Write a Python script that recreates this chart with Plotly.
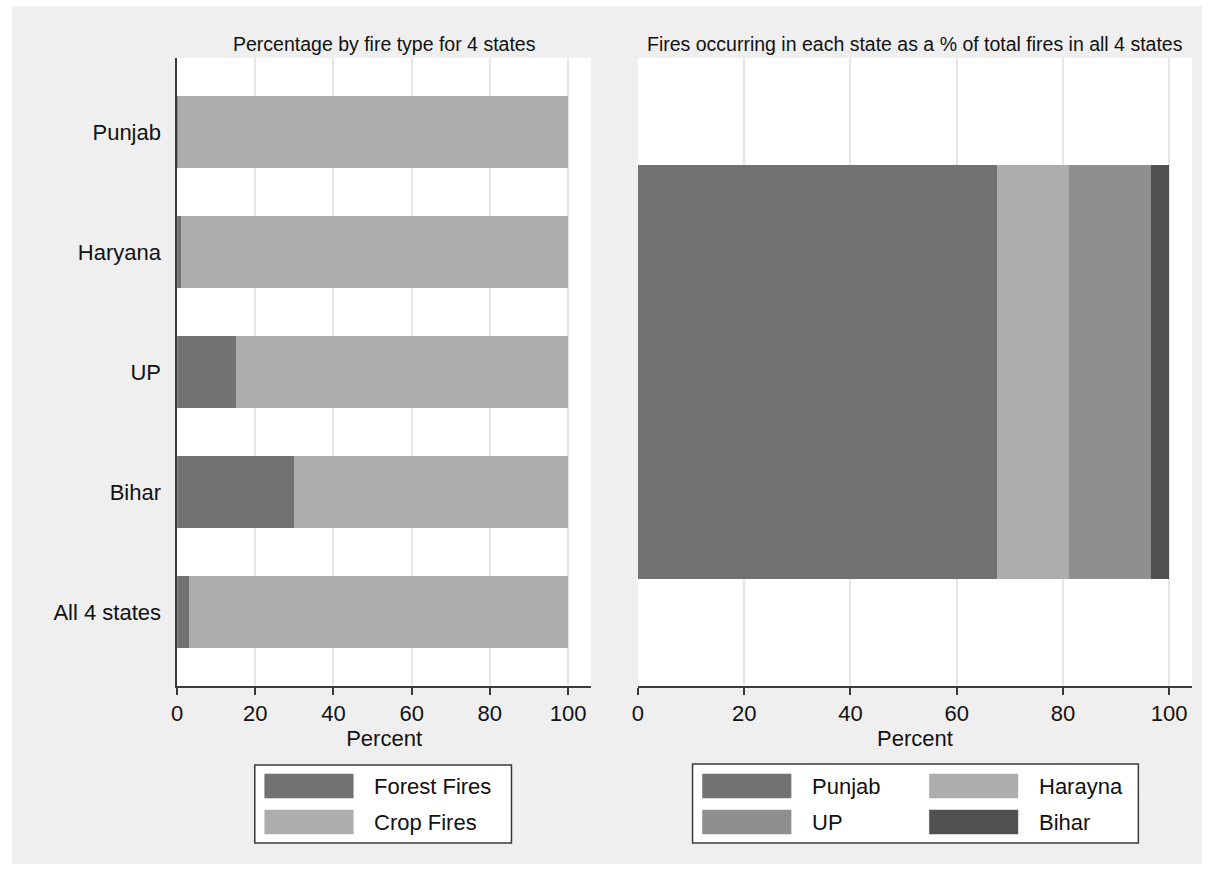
import plotly.graph_objects as go

# ---- data ----
states = ["Punjab", "Haryana", "UP", "Bihar", "All 4 states"]
forest_pct = [0.3, 1.0, 15.0, 29.9, 3.1]
crop_pct = [99.7, 99.0, 85.0, 70.1, 96.9]
fire_types = ["Forest Fires", "Crop Fires"]

share_states = ["Punjab", "Harayna", "UP", "Bihar"]
share_pct = [67.6, 13.5, 15.5, 3.4]

x_ticks = [0, 20, 40, 60, 80, 100]

# ---- styles ----
W, H = 1208, 870
FONT = "Arial, 'Liberation Sans', sans-serif"
type_colors = ["#727272", "#adadad"]
state_colors = ["#727272", "#adadad", "#8f8f8f", "#505050"]
GRID = "#e6e6e6"
AX = "#3a3a3a"


def px(x):
    return x / W


def py(y):
    return 1 - y / H


fig = go.Figure()

for name, vals, col in zip(fire_types, [forest_pct, crop_pct], type_colors):
    fig.add_trace(go.Bar(
        y=states, x=vals, orientation="h", name=name,
        marker=dict(color=col, line=dict(width=0)),
        width=0.6, xaxis="x", yaxis="y", showlegend=False,
    ))

for name, val, col in zip(share_states, share_pct, state_colors):
    fig.add_trace(go.Bar(
        y=[0], x=[val], orientation="h", name=name,
        marker=dict(color=col, line=dict(width=0)),
        width=0.66, xaxis="x2", yaxis="y2", showlegend=False,
    ))

xaxis_common = dict(
    tickvals=x_ticks, ticks="outside", ticklen=7, tickwidth=1.5, tickcolor=AX,
    showline=True, linecolor=AX, linewidth=1.5,
    showgrid=True, gridcolor=GRID, gridwidth=1.5, zeroline=False,
    tickfont=dict(size=22, color="#111", family=FONT),
    title=dict(text="Percent", font=dict(size=22, color="#111", family=FONT), standoff=0),
)

fig.update_layout(
    width=W, height=H, autosize=False,
    margin=dict(l=0, r=0, t=0, b=0),
    paper_bgcolor="#efefef", plot_bgcolor="white",
    barmode="stack", showlegend=False,
    font=dict(family=FONT, color="#111"),
    xaxis=dict(domain=[px(172), px(588)], range=[0, 105.9], anchor="y", **xaxis_common),
    yaxis=dict(domain=[py(686), py(58)], range=[4.617, -0.617], anchor="x",
               type="category", categoryorder="array", categoryarray=states,
               showline=True, linecolor=AX, linewidth=1.5, ticks="",
               showgrid=False, zeroline=False, ticklabelstandoff=10,
               tickfont=dict(size=22, color="#111", family=FONT)),
    xaxis2=dict(domain=[px(635), px(1192)], range=[0, 104.3], anchor="y2", **xaxis_common),
    yaxis2=dict(domain=[py(686), py(58)], range=[-0.5, 0.5], anchor="x2",
                showline=False, showticklabels=False, ticks="",
                showgrid=False, zeroline=False),
)

shapes = []
annotations = []

# outer white frame
shapes.append(dict(type="rect", xref="paper", yref="paper", x0=0, x1=1, y0=0, y1=1,
                   line=dict(color="white", width=12), fillcolor="rgba(0,0,0,0)", layer="above"))

# panel titles
annotations.append(dict(text="Percentage by fire type for 4 states", xref="paper", yref="paper",
                        x=px(380), y=py(44), showarrow=False, xanchor="center", yanchor="middle",
                        font=dict(size=19.5, color="#111", family=FONT)))
annotations.append(dict(text="Fires occurring in each state as a % of total fires in all 4 states",
                        xref="paper", yref="paper", x=px(914), y=py(44), showarrow=False,
                        xanchor="center", yanchor="middle",
                        font=dict(size=19.5, color="#111", family=FONT)))


def legend_box(x0, y0, x1, y1):
    shapes.append(dict(type="rect", xref="paper", yref="paper",
                       x0=px(x0), x1=px(x1), y0=py(y1), y1=py(y0),
                       fillcolor="white", line=dict(color=AX, width=1.5), layer="above"))


def legend_item(sx, sy, label, color):
    shapes.append(dict(type="rect", xref="paper", yref="paper",
                       x0=px(sx), x1=px(sx + 89), y0=py(sy + 24), y1=py(sy),
                       fillcolor=color, line=dict(color=color, width=0.5), layer="above"))
    annotations.append(dict(text=label, xref="paper", yref="paper",
                            x=px(sx + 108), y=py(sy + 12), showarrow=False,
                            xanchor="left", yanchor="middle",
                            font=dict(size=22, color="#111", family=FONT)))


# left legend
legend_box(250, 765, 508, 843)
for i, (name, col) in enumerate(zip(fire_types, type_colors)):
    legend_item(260, 774 + 36 * i, name, col)

# right legend (2 columns)
legend_box(690, 764, 1138, 843)
for i, (name, col) in enumerate(zip(share_states, state_colors)):
    r, c = divmod(i, 2)
    legend_item(700 + 228 * c, 774 + 36 * r, name, col)

fig.update_layout(shapes=shapes, annotations=annotations)

fig.write_html(
    "out.html",
    config={"displayModeBar": False},
    post_script="document.body.style.margin='0';document.body.style.overflow='hidden';",
)
